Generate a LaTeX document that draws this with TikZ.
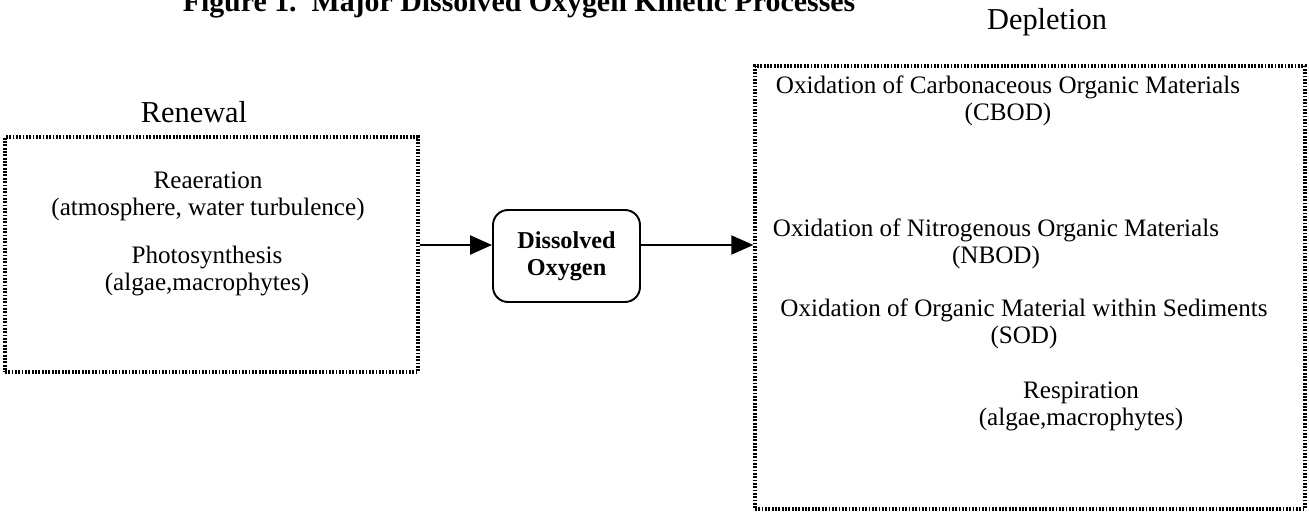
\documentclass[tikz,border=0pt]{standalone}
\usepackage{fontspec}
\setmainfont{Liberation Serif}
\usetikzlibrary{arrows.meta}
\tikzset{
  dotbox/.style={draw, line width=1.9pt, dash pattern=on 1pt off 0.9pt, inner sep=0pt},
  txt/.style={font=\fontsize{14.3}{15.3}\selectfont, align=center, inner sep=0pt},
  head/.style={font=\fontsize{17.3}{20}\selectfont, inner sep=0pt},
  flow/.style={line width=1.1pt, -{Triangle[length=0.44cm,width=0.38cm]}},
}
\begin{document}
\begin{tikzpicture}[x=0.02cm,y=-0.02cm]
\useasboundingbox (0,0) rectangle (1309,523);
%\draw[step=50,gray,very thin] (0,0) grid (1309,523);
\node[anchor=base, inner sep=0pt, font=\bfseries\fontsize{17}{20}\selectfont] (title) at (519,12) {Figure 1.\ \ Major Dissolved Oxygen Kinetic Processes};
\node[head] (renewal) at (194,112) {Renewal};
\node[head] (depletion) at (1047,22) {Depletion};
% boxes
\node[dotbox, minimum width=8.26cm, minimum height=4.7cm] (lbox) at (211.5,254.5) {};
\node[dotbox, minimum width=11cm, minimum height=8.86cm] (rbox) at (1030,287.5) {};
\node[draw, line width=1.1pt, rounded corners=0.3cm, minimum width=2.94cm, minimum height=1.84cm, align=center, font=\bfseries\fontsize{13.8}{15.5}\selectfont] (dox) at (566.5,256) {Dissolved\\Oxygen};
% renewal
\node[txt] (reaer) at (208,196) {Reaeration\\(atmosphere, water turbulence)};
\node[txt] (photo) at (207,271) {Photosynthesis\\(algae,macrophytes)};
% depletion
\node[txt] (cbod) at (1008,101) {Oxidation of Carbonaceous Organic Materials\\(CBOD)};
\node[txt] (nbod) at (996,244) {Oxidation of Nitrogenous Organic Materials\\(NBOD)};
\node[txt] (sod) at (1024,324) {Oxidation of Organic Material within Sediments\\(SOD)};
\node[txt] (resp) at (1081,406) {Respiration\\(algae,macrophytes)};
% arrows
\coordinate (din) at ([yshift=0.22cm]dox.west);
\coordinate (dout) at ([yshift=0.22cm]dox.east);
\draw[flow] (lbox.east |- din) -- (din);
\draw[flow] (dout) -- (rbox.west |- dout);
\end{tikzpicture}
\end{document}
